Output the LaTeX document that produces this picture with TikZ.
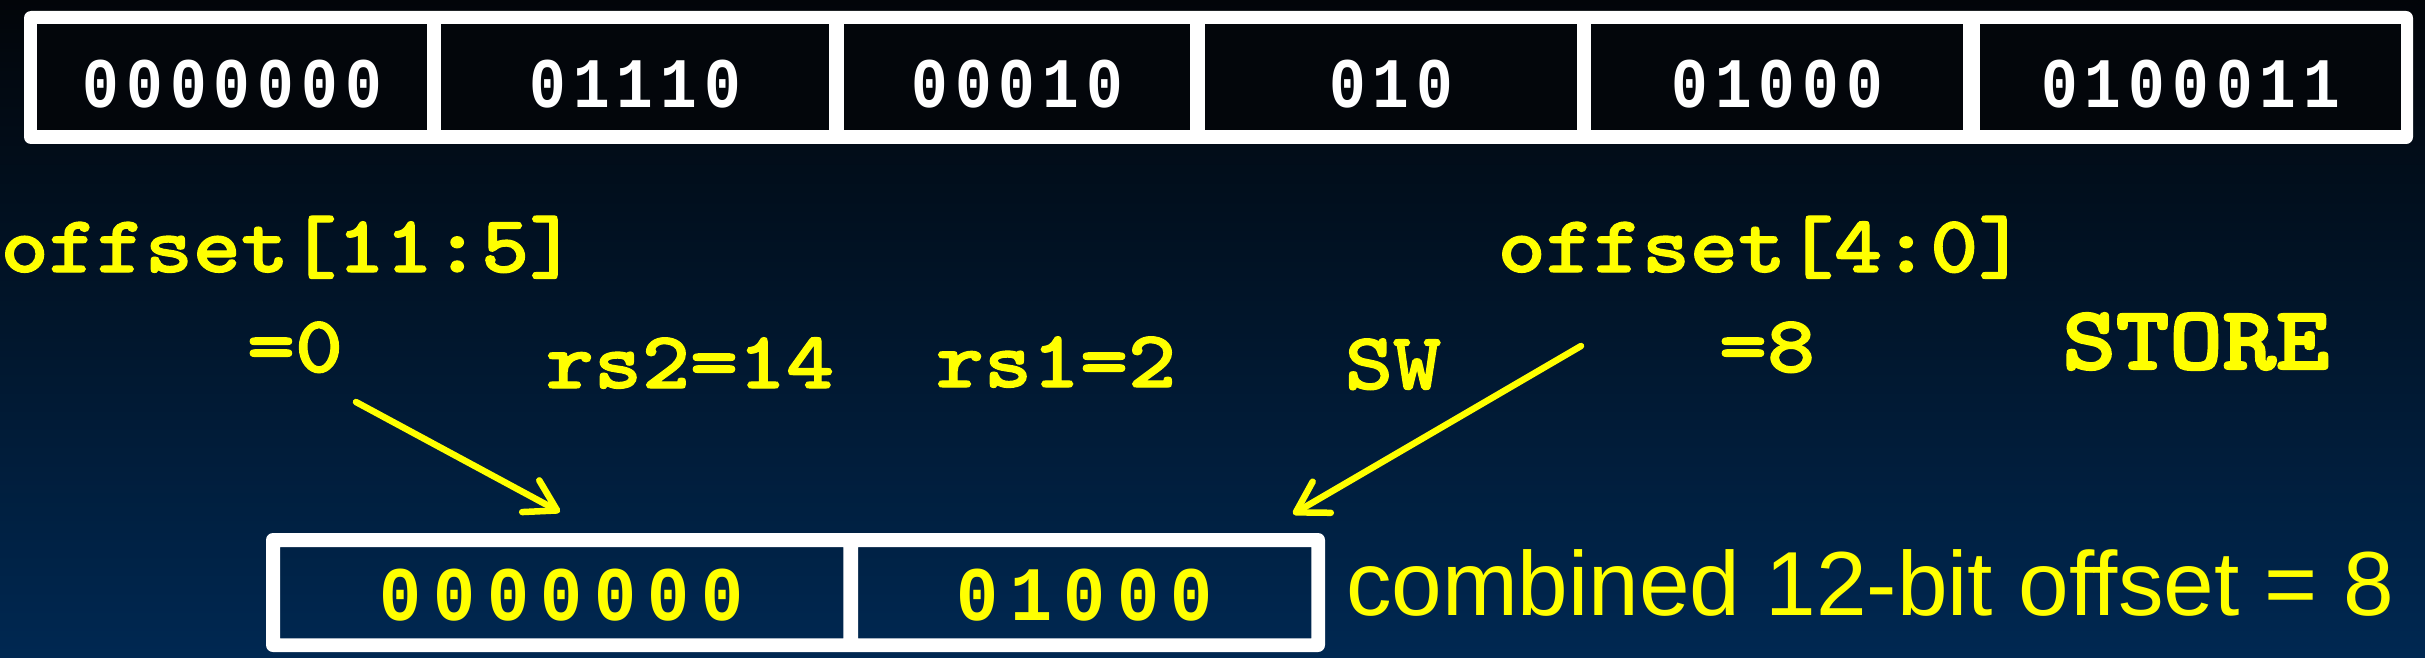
\documentclass[tikz,border=0pt]{standalone}
\usepackage{fontspec}
\setmainfont{Liberation Sans}
\newfontfamily\topdigits{Liberation Mono}[FakeStretch=0.86,LetterSpace=10]
\newfontfamily\lowdigits{Liberation Mono}[FakeStretch=0.91,LetterSpace=15]
\newfontfamily\cour{lmmonolt10-bold}[Extension=.otf,FakeStretch=1.13,FakeBold=1.5]
\newfontfamily\courbold{lmmonolt10-bold}[Extension=.otf,FakeStretch=1.13,FakeBold=2.5]
\usetikzlibrary{arrows.meta}
\definecolor{bgtop}{RGB}{2,5,9}
\definecolor{bgmid}{RGB}{1,22,44}
\definecolor{bgbot}{RGB}{0,40,82}
\definecolor{cellblack}{RGB}{3,6,11}
\definecolor{yellowc}{RGB}{255,255,0}
\begin{document}
\begin{tikzpicture}[x=1pt,y=-1pt,
  yel/.style={text=yellowc, inner sep=0, anchor=base, font=\cour\fontsize{81}{90}\selectfont},
  topcell/.style={fill=cellblack, anchor=north west, inner xsep=0, inner ysep=0,
    text height=83pt, text depth=23pt, text=white,
    font=\topdigits\bfseries\fontsize{71}{80}\selectfont},
  lowcell/.style={anchor=north west, inner xsep=0, inner ysep=0,
    text height=73pt, text depth=18pt, text=yellowc,
    font=\lowdigits\bfseries\fontsize{77}{85}\selectfont},
  arr/.style={draw=yellowc, line width=6.5pt, line cap=round, line join=round,
    -{Straight Barb[length=30pt,width=36pt,line cap=round,line join=round]}}
]
\shade[top color=bgtop, bottom color=bgbot, middle color=bgmid] (0,0) rectangle (2425,658);
\useasboundingbox (0,0) rectangle (2425,658);

% top instruction word
\fill[white, rounded corners=7pt] (24,11) rectangle (2413,144);
\node[topcell, minimum width=390pt] (t1) at (37,24)   {0000000};
\node[topcell, minimum width=388pt] (t2) at (441,24)  {01110};
\node[topcell, minimum width=346pt] (t3) at (844,24)  {00010};
\node[topcell, minimum width=372pt] (t4) at (1205,24) {010};
\node[topcell, minimum width=372pt] (t5) at (1591,24) {01000};
\node[topcell, minimum width=421pt] (t6) at (1980,24) {0100011};

% labels
\node[yel] (off1) at (289,272) {offset[11:5]};
\node[yel] (eq0)  at (295,372) {=0};
\node[yel] (rs2)  at (690,388) {rs2=14};
\node[yel] (rs1)  at (1056,387) {rs1=2};
\node[yel] (sw)   at (1393,389) {SW};
\node[yel] (off2) at (1762,272) {offset[4:0]};
\node[yel] (eq8)  at (1767,372) {=8};
\node[yel, font=\courbold\fontsize{90}{100}\selectfont] (store) at (2196,369) {STORE};

% combined offset
\node[lowcell, minimum width=563pt] (l1) at (280,547) {0000000};
\node[lowcell, minimum width=453pt] (l2) at (858,547) {01000};
\fill[white, even odd rule, rounded corners=7pt] (266,533) rectangle (1325,652)
  [sharp corners] (l1.north west) rectangle (l1.south east)
  (l2.north west) rectangle (l2.south east);
\node[text=yellowc, inner sep=0, anchor=base, font=\fontsize{91}{100}\selectfont]
  (comb) at (1870,615) {combined 12-bit offset = 8};

% arrows
\coordinate (a1s) at (356,402);
\coordinate (a1e) at (560,512);
\coordinate (a2s) at (1581,346);
\coordinate (a2e) at (1293,514);
\draw[arr] (a1s) -- (a1e);
\draw[arr] (a2s) -- (a2e);
\end{tikzpicture}
\end{document}
